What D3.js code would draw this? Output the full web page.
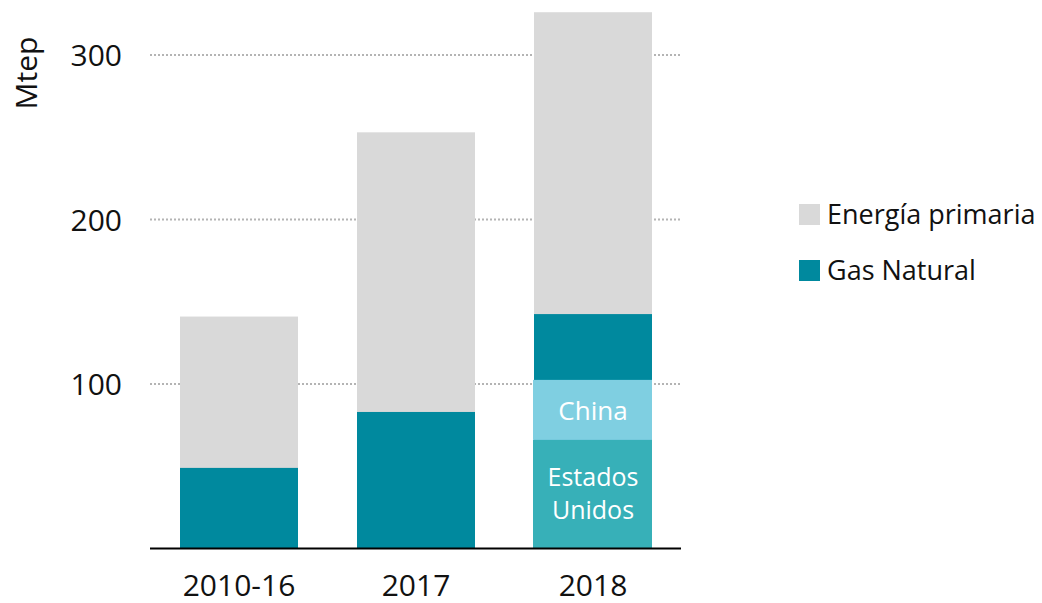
<!DOCTYPE html>
<html>
<head>
<meta charset="utf-8">
<script src="https://cdn.jsdelivr.net/npm/d3@7"></script>
<style>
  body { margin: 0; background: #fff; }
  svg { font-family: "Open Sans", "Noto Sans", sans-serif; }
</style>
</head>
<body>
<svg id="chart" width="1042" height="603"></svg>
<script>
// data
const categories = ["2010-16", "2017", "2018"];
const primaryEnergy = [141, 253, 326];
const naturalGas = [49, 83, 142.5];
// 2018 gas breakdown (stacked from zero)
const breakdownNames = ["Estados Unidos", "China"];
const breakdownValues = [66, 36.5];
const yTicks = [100, 200, 300];

const width = 1042, height = 603;
const svg = d3.select("#chart");

const colors = {
    primary: "#d9d9d9",
    gas: "#00899e",
    china: "#7fcfe1",
    usa: "#37b0b8"
};

// band scale laid out so bars are 118px wide with a 177px step
const xScale = d3.scaleBand()
    .domain(categories)
    .range([150.5, 681.5])
    .paddingInner(1 / 3)
    .paddingOuter(1 / 6);

const yScale = d3.scaleLinear()
    .domain([0, 300])
    .range([548.5, 55]);

// dotted gridlines
svg.append("g")
    .selectAll("line")
    .data(yTicks)
    .enter().append("line")
    .attr("x1", 150)
    .attr("x2", 681)
    .attr("y1", d => yScale(d))
    .attr("y2", d => yScale(d))
    .attr("stroke", "#b4b4b4")
    .attr("stroke-width", 2)
    .attr("stroke-dasharray", "2,2");

// y axis labels
const yAxis = d3.axisLeft(yScale)
    .tickValues(yTicks)
    .tickSize(0)
    .tickPadding(0);

svg.append("g")
    .attr("transform", "translate(122,0)")
    .call(yAxis)
    .call(g => g.select(".domain").remove())
    .selectAll("text")
    .attr("font-size", "30px")
    .attr("font-family", "\"Open Sans\", sans-serif")
    .attr("dy", "0.35em")
    .attr("fill", "#111");

// y axis title
svg.append("text")
    .attr("transform", "translate(37,73) rotate(-90)")
    .attr("text-anchor", "middle")
    .attr("font-size", "30px")
    .attr("fill", "#111")
    .text("Mtep");

// primary energy bars
svg.append("g")
    .selectAll("rect")
    .data(categories)
    .enter().append("rect")
    .attr("x", d => xScale(d))
    .attr("width", xScale.bandwidth())
    .attr("y", (d, i) => yScale(primaryEnergy[i]))
    .attr("height", (d, i) => yScale(0) - yScale(primaryEnergy[i]))
    .attr("fill", colors.primary);

// natural gas bars
svg.append("g")
    .selectAll("rect")
    .data(categories)
    .enter().append("rect")
    .attr("x", d => xScale(d))
    .attr("width", xScale.bandwidth())
    .attr("y", (d, i) => yScale(naturalGas[i]))
    .attr("height", (d, i) => yScale(0) - yScale(naturalGas[i]))
    .attr("fill", colors.gas);

// breakdown for 2018
let acc = 0;
const segments = breakdownValues.map((v, i) => {
    const seg = { name: breakdownNames[i], y0: acc, y1: acc + v };
    acc += v;
    return seg;
});
const segColors = [colors.usa, colors.china];
const bx = xScale("2018");

svg.append("g")
    .selectAll("rect")
    .data(segments)
    .enter().append("rect")
    .attr("x", bx - 1)
    .attr("width", xScale.bandwidth() + 1)
    .attr("y", d => yScale(d.y1))
    .attr("height", d => yScale(d.y0) - yScale(d.y1))
    .attr("fill", (d, i) => segColors[i]);

// segment labels
const cx = bx + xScale.bandwidth() / 2;
svg.append("text")
    .attr("x", cx)
    .attr("y", (yScale(segments[1].y0) + yScale(segments[1].y1)) / 2 + 10)
    .attr("text-anchor", "middle")
    .attr("font-size", "26px")
    .attr("fill", "#fff")
    .text("China");

const usMid = (yScale(segments[0].y0) + yScale(segments[0].y1)) / 2;
["Estados", "Unidos"].forEach((w, i) => {
    svg.append("text")
        .attr("x", cx)
        .attr("y", usMid - 8 + i * 33)
        .attr("text-anchor", "middle")
        .attr("font-size", "25px")
        .attr("fill", "#fff")
        .text(w);
});

// x axis
const xAxis = d3.axisBottom(xScale)
    .tickSize(0)
    .tickPadding(0);

svg.append("g")
    .attr("transform", `translate(0,${yScale(0)})`)
    .call(xAxis)
    .call(g => g.select(".domain")
        .attr("d", "M150,0H681")
        .attr("stroke", "#000")
        .attr("stroke-width", 2))
    .selectAll("text")
    .attr("font-size", "30px")
    .attr("font-family", "\"Open Sans\", sans-serif")
    .attr("dy", null)
    .attr("y", 47)
    .attr("fill", "#111");

// legend
const legendItems = [
    { label: "Energía primaria", color: colors.primary },
    { label: "Gas Natural", color: colors.gas }
];
const legend = svg.append("g")
    .selectAll("g")
    .data(legendItems)
    .enter().append("g")
    .attr("transform", (d, i) => `translate(799,${204 + i * 56})`);

legend.append("rect")
    .attr("width", 21)
    .attr("height", 21)
    .attr("fill", d => d.color);

legend.append("text")
    .attr("x", 28)
    .attr("y", 20)
    .attr("font-size", "27px")
    .attr("fill", "#111")
    .text(d => d.label);
</script>
</body>
</html>
